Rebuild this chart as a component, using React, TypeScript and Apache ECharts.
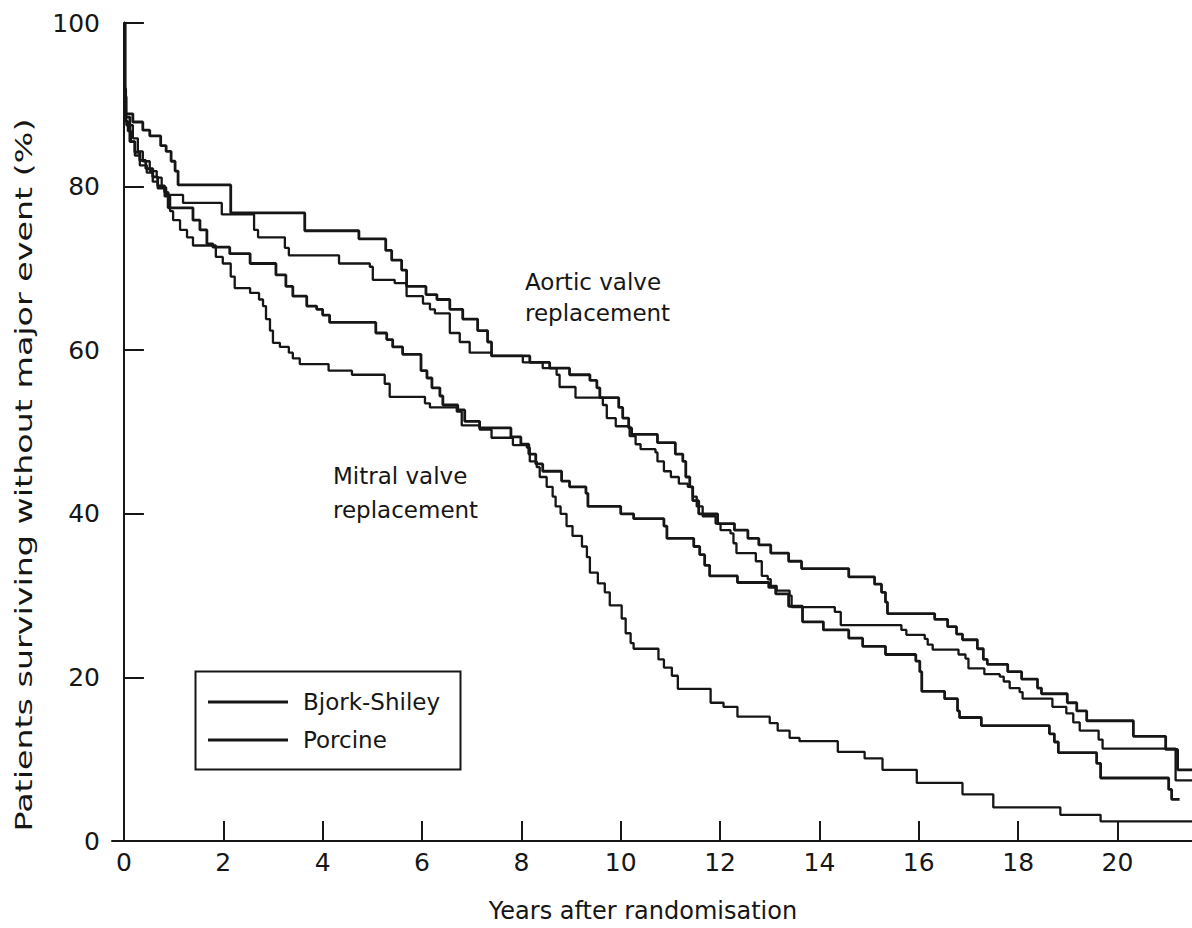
import React, { useEffect, useRef } from "react";
import * as echarts from "echarts";

// Kaplan-Meier curves: [years after randomisation, % surviving without major event]
// value changes to the given % at the given time (step drawn at the event time)
const aorticBjork: number[][] = [
  [0, 100], [0.02, 91], [0.04, 88.9], [0.18, 87.9], [0.38, 86.9], [0.52, 86.2], [0.74, 85], [0.85, 84.3],
  [0.95, 83.1], [1.03, 81.9], [1.09, 80.2], [2.15, 76.8], [3.64, 74.6], [4.73, 73.6], [5.27, 72.2],
  [5.39, 71], [5.59, 69.8], [5.69, 67.8], [6.08, 66.8], [6.3, 66.2], [6.56, 65], [6.82, 63.8],
  [7.12, 62.4], [7.32, 61], [7.4, 59.3], [8.17, 58.5], [8.57, 57.8], [8.97, 57], [9.38, 56.3],
  [9.52, 55.4], [9.58, 54.2], [9.96, 53], [10.04, 51.7], [10.16, 50.5], [10.22, 49.7], [10.74, 48.7],
  [11.1, 47.3], [11.25, 46.4], [11.31, 44.5], [11.39, 43.3], [11.45, 41.6], [11.57, 40], [11.95, 38.8],
  [12.29, 38], [12.56, 37], [12.78, 36.2], [13.02, 35.2], [13.38, 34.2], [13.64, 33.3], [14.59, 32.3],
  [15.11, 31.4], [15.25, 30.4], [15.33, 29.2], [15.37, 27.8], [16.32, 27.1], [16.58, 26.2], [16.76, 25.3],
  [16.88, 24.6], [17.18, 23.5], [17.3, 22.2], [17.38, 21.6], [17.79, 20.7], [18.07, 19.8], [18.39, 18.7],
  [18.47, 18], [18.99, 16.9], [19.18, 15.9], [19.38, 14.7], [20.32, 12.8], [20.97, 11.2], [21.21, 8.7],
  [21.5, 8.7],
];

const aorticPorcine: number[][] = [
  [0, 100], [0.02, 92], [0.04, 89.5], [0.05, 87.5], [0.18, 85.9], [0.28, 84.3], [0.38, 83.1], [0.52, 81.9],
  [0.66, 81.1], [0.76, 79.9], [0.85, 79], [1.19, 78], [1.97, 76.6], [2.62, 74.7], [2.7, 73.8], [3.24, 72.5],
  [3.32, 71.6], [4.33, 70.6], [4.95, 70.2], [5.01, 68.6], [5.45, 68.2], [5.69, 66.6], [6.02, 65.7],
  [6.16, 65], [6.26, 64.5], [6.56, 62.1], [6.76, 61], [6.96, 59.7], [7.4, 59.3], [8.03, 58.5], [8.43, 57.8],
  [8.71, 57], [8.77, 55.5], [9.09, 54.2], [9.64, 53.3], [9.72, 51.7], [9.9, 50.7], [10.18, 49.5],
  [10.3, 48.5], [10.4, 47.9], [10.7, 47.5], [10.74, 46.4], [10.87, 45.2], [11.01, 44.5], [11.17, 43.7],
  [11.35, 43.3], [11.45, 42.1], [11.53, 40.9], [11.65, 39.7], [11.91, 38.8], [12.01, 38], [12.21, 37.6],
  [12.27, 36.4], [12.33, 35.2], [12.72, 34.2], [12.84, 32.4], [12.96, 32], [13.02, 31.2], [13.14, 30.6],
  [13.4, 30], [13.44, 28.6], [14.31, 28], [14.43, 26.4], [15.65, 25.8], [15.75, 25.2], [16.12, 24.7],
  [16.18, 24], [16.28, 23.4], [16.8, 22.8], [16.94, 22.3], [17.0, 21.1], [17.32, 20.4], [17.63, 20.1],
  [17.71, 19.5], [17.83, 18.7], [18.03, 18.2], [18.09, 17.4], [18.69, 16.4], [18.97, 15.6], [19.11, 14.5],
  [19.24, 13.5], [19.62, 12.4], [19.7, 11.3], [21.17, 7.4], [21.5, 7.4],
];

const mitralBjork: number[][] = [
  [0, 100], [0.02, 91], [0.04, 88.5], [0.12, 85.5], [0.22, 84.2], [0.32, 83.2], [0.44, 82.2], [0.58, 81.2],
  [0.68, 80.1], [0.82, 79.3], [0.89, 77.4], [1.39, 75.9], [1.53, 74.7], [1.67, 73], [1.79, 72.6],
  [2.13, 71.8], [2.54, 70.6], [3.06, 69.2], [3.26, 67.8], [3.4, 66.6], [3.68, 65.4], [3.88, 65], [4.0, 64.3],
  [4.14, 63.4], [5.07, 62.1], [5.29, 61.3], [5.41, 60.4], [5.61, 59.5], [5.98, 57.5], [6.1, 56.6],
  [6.2, 55.4], [6.36, 54.4], [6.42, 53.3], [6.72, 52.7], [6.86, 51.3], [7.16, 50.5], [7.79, 49.4],
  [7.99, 48.5], [8.15, 47.3], [8.29, 46.1], [8.43, 45.2], [8.81, 44], [8.97, 43.3], [9.3, 42.5],
  [9.34, 40.9], [10.0, 40], [10.26, 39.4], [10.87, 38.5], [10.93, 37], [11.47, 36], [11.59, 35],
  [11.69, 33.7], [11.79, 32.4], [12.35, 31.6], [12.98, 31], [13.12, 30.2], [13.38, 28.7], [13.66, 26.8],
  [14.08, 25.8], [14.59, 24.8], [14.87, 23.8], [15.33, 22.8], [15.94, 22], [16.02, 20.7], [16.06, 18.3],
  [16.52, 17.4], [16.78, 15.9], [16.82, 15.1], [17.26, 14.1], [18.63, 13.1], [18.73, 12.1], [18.81, 10.8],
  [19.58, 9.5], [19.66, 7.7], [21.03, 6.3], [21.09, 5.1], [21.25, 5.1],
];

const mitralPorcine: number[][] = [
  [0, 100], [0.02, 91], [0.04, 88], [0.08, 86.8], [0.14, 85.5], [0.22, 83.8], [0.32, 82.6], [0.46, 81.7],
  [0.58, 80.6], [0.68, 79.8], [0.82, 78.8], [0.93, 77], [0.99, 75.9], [1.13, 74.7], [1.27, 73.8],
  [1.39, 72.8], [1.85, 71.4], [1.99, 70.6], [2.15, 69], [2.23, 67.6], [2.54, 67], [2.72, 66.2], [2.8, 65.4],
  [2.86, 63.8], [2.94, 62.4], [3.0, 60.9], [3.14, 60.4], [3.32, 59.7], [3.4, 59], [3.54, 58.3],
  [4.12, 57.5], [4.59, 57], [5.25, 55.9], [5.35, 54.3], [6.06, 53.5], [6.16, 53], [6.7, 52.5], [6.8, 50.8],
  [7.16, 50.3], [7.4, 49.3], [7.83, 48.4], [8.11, 48.1], [8.17, 46.4], [8.31, 45.7], [8.37, 44.5],
  [8.51, 43.3], [8.63, 42.1], [8.69, 40.9], [8.79, 40], [8.91, 38.5], [9.03, 37.3], [9.22, 36],
  [9.32, 34.7], [9.38, 32.8], [9.54, 31.5], [9.68, 30.4], [9.78, 28.8], [10.02, 27.2], [10.1, 25.4],
  [10.2, 24.2], [10.26, 23.5], [10.76, 22.2], [10.87, 21.2], [11.03, 20.2], [11.15, 18.6], [11.81, 16.9],
  [12.07, 16.4], [12.35, 15.2], [13.0, 14.4], [13.16, 13.5], [13.4, 12.6], [13.6, 12.2], [14.37, 10.9],
  [14.91, 10.1], [15.27, 8.7], [15.96, 7.1], [16.88, 5.7], [17.5, 4.1], [18.85, 3.2], [19.66, 2.4],
  [21.5, 2.4],
];

const xTicks = [0, 2, 4, 6, 8, 10, 12, 14, 16, 18, 20];
const legendNames = ["Bjork-Shiley", "Porcine"];
const xName = "Years after randomisation";
const yName = "Patients surviving without major event (%)";
const aorticLabel = "Aortic valve\nreplacement";
const mitralLabel = "Mitral valve\nreplacement";

const FONT = "'DejaVu Sans', 'Noto Sans', sans-serif";
const INK = "#161616";

export default function App() {
  const ref = useRef<HTMLDivElement>(null);

  useEffect(() => {
    if (!ref.current) return;
    const chart = echarts.init(ref.current, undefined, { renderer: "svg" });
    const lineSeries = (name: string, data: number[][], width: number) => ({
      type: "line",
      name,
      data,
      step: "end",
      symbol: "none",
      showSymbol: false,
      silent: true,
      lineStyle: { color: INK, width },
      itemStyle: { color: INK },
    });
    chart.setOption({
      animation: false,
      backgroundColor: "#ffffff",
      textStyle: { fontFamily: FONT },
      grid: { left: 112, right: 0, top: 23, bottom: 76, containLabel: false },
      xAxis: {
        type: "value",
        min: -0.24,
        max: 21.5,
        name: xName,
        nameLocation: "middle",
        nameGap: 58,
        nameTextStyle: { fontSize: 24, color: INK, fontFamily: FONT, padding: [0, 18, 0, 0] },
        axisLine: { show: true, lineStyle: { color: INK, width: 2 } },
        axisTick: { show: true, inside: true, length: 20, customValues: xTicks, lineStyle: { color: INK, width: 2 } },
        axisLabel: { customValues: xTicks, fontSize: 25, color: INK, margin: 9, fontFamily: FONT },
        splitLine: { show: false },
      },
      yAxis: {
        type: "value",
        min: 0,
        max: 100,
        interval: 20,
        axisLine: { show: true, lineStyle: { color: INK, width: 2 } },
        axisTick: { show: true, inside: true, length: 20, lineStyle: { color: INK, width: 2 } },
        axisLabel: { fontSize: 25, color: INK, margin: 12, fontFamily: FONT },
        splitLine: { show: false },
      },
      legend: {
        data: legendNames,
        orient: "vertical",
        left: 208,
        top: 690,
        padding: 0,
        icon: "rect",
        itemWidth: 80,
        itemHeight: 3,
        itemGap: 14,
        textStyle: { fontSize: 23, lineHeight: 24, color: INK, fontFamily: FONT, padding: [0, 0, 0, 10] },
        selectedMode: false,
      },
      graphic: [
        {
          type: "rect",
          left: 193,
          top: 669,
          shape: { width: 265, height: 98 },
          style: { fill: "none", stroke: INK, lineWidth: 2 },
          silent: true,
        },
        {
          type: "text",
          x: 525,
          y: 266,
          style: { text: aorticLabel, fontSize: 23, lineHeight: 31, fill: INK, fontFamily: FONT, textAlign: "left" },
        },
        {
          type: "text",
          x: 333,
          y: 459,
          style: { text: mitralLabel, fontSize: 23, lineHeight: 34, fill: INK, fontFamily: FONT, textAlign: "left" },
        },
        {
          type: "text",
          x: 24,
          y: 475,
          rotation: Math.PI / 2,
          scaleX: 1.45,
          style: { text: yName, fontSize: 23, fill: INK, fontFamily: FONT, textAlign: "center", textVerticalAlign: "middle" },
        },
      ],
      series: [
        lineSeries("Bjork-Shiley", aorticBjork, 2.8),
        lineSeries("Porcine", aorticPorcine, 2.3),
        lineSeries("Bjork-Shiley", mitralBjork, 2.8),
        lineSeries("Porcine", mitralPorcine, 2.3),
      ],
    });
    return () => chart.dispose();
  }, []);

  return <div ref={ref} style={{ position: "fixed", left: 0, top: 0, width: 1192, height: 928, background: "#fff" }} />;
}
